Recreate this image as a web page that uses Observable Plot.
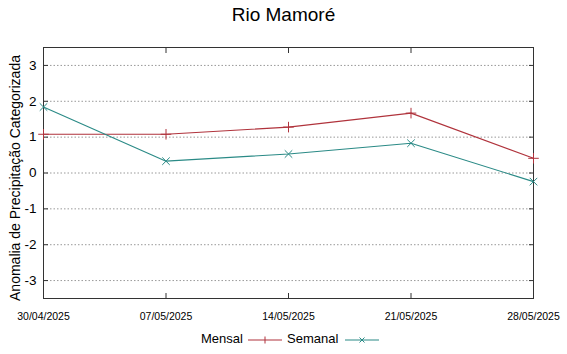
<!DOCTYPE html>
<html>
<head>
<meta charset="utf-8">
<script src="https://cdn.jsdelivr.net/npm/d3@7"></script>
<script src="https://cdn.jsdelivr.net/npm/@observablehq/plot@0.6"></script>
<style>
  html, body { margin: 0; padding: 0; background: #fff; }
  #wrap { position: relative; width: 567px; height: 354px; font-family: "Liberation Sans", Arial, sans-serif; }
  #title { position: absolute; left: 0; width: 567px; top: 4px; text-align: center; font-size: 19px; color: #000; }
  #legend { position: absolute; top: 331px; left: 0; width: 567px; font-size: 13px; color: #000; }
  #legend span, #legend svg { position: absolute; }
</style>
</head>
<body>
<div id="wrap">
  <div id="title">Rio Mamoré</div>
  <div id="chart"></div>
  <div id="legend"></div>
</div>
<script>
const dates = ["2025-04-30", "2025-05-07", "2025-05-14", "2025-05-21", "2025-05-28"];
const mensal = [1.08, 1.08, 1.28, 1.67, 0.41];
const semanal = [1.84, 0.33, 0.53, 0.83, -0.24];
const yTicks = [-3, -2, -1, 0, 1, 2, 3];
const seriesNames = ["Mensal", "Semanal"];
const seriesColors = ["#b0333c", "#2a8a86"];

const parse = d3.utcParse("%Y-%m-%d");
const xDates = dates.map(parse);
const fmt = d3.utcFormat("%d/%m/%Y");
const rows = [];
xDates.forEach((d, i) => {
  rows.push({date: d, value: mensal[i], series: "Mensal"});
  rows.push({date: d, value: semanal[i], series: "Semanal"});
});
const mRows = rows.filter(r => r.series === "Mensal");
const sRows = rows.filter(r => r.series === "Semanal");

const chart = Plot.plot({
  width: 567,
  height: 354,
  marginTop: 47,
  marginBottom: 56,
  marginLeft: 43,
  marginRight: 34,
  style: {fontFamily: "Liberation Sans, Arial, sans-serif", background: "transparent", overflow: "visible"},
  x: {type: "utc", domain: [xDates[0], xDates[xDates.length - 1]]},
  y: {domain: [-3.5, 3.5]},
  color: {domain: seriesNames, range: seriesColors},
  marks: [
    Plot.gridY(yTicks, {stroke: "#999", strokeOpacity: 1, strokeDasharray: "1.5,2", strokeWidth: 1}),
    Plot.axisY(yTicks, {anchor: "left", tickSize: 0, tickPadding: 7, fontSize: 13.5, label: null, tickFormat: d => String(d)}),
    Plot.axisY(yTicks, {anchor: "left", tickSize: -5, tickFormat: () => "", label: null, stroke: "#333"}),
    Plot.axisY(yTicks, {anchor: "right", tickSize: -5, tickFormat: () => "", label: null, stroke: "#333"}),
    Plot.axisX(xDates, {anchor: "bottom", tickSize: 0, tickPadding: 14, fontSize: 10.5, tickFormat: fmt, label: null}),
    Plot.axisX(xDates, {anchor: "bottom", tickSize: -5, tickFormat: () => "", label: null, stroke: "#333"}),
    Plot.axisX(xDates, {anchor: "top", tickSize: -5, tickFormat: () => "", label: null, stroke: "#333"}),
    Plot.frame({stroke: "#333", strokeWidth: 1}),
    Plot.text(["Anomalia de Precipitação Categorizada"], {frameAnchor: "left", textAnchor: "middle", rotate: -90, dx: -28, dy: 5, fontSize: 14, text: d => d}),
    Plot.line(mRows, {x: "date", y: "value", stroke: seriesColors[0], strokeWidth: 1.1}),
    Plot.line(sRows, {x: "date", y: "value", stroke: seriesColors[1], strokeWidth: 1.1}),
    Plot.dot(mRows, {x: "date", y: "value", symbol: "plus", r: 3.5, stroke: seriesColors[0], strokeWidth: 1}),
    Plot.dot(sRows, {x: "date", y: "value", symbol: "times", r: 3.5, stroke: seriesColors[1], strokeWidth: 1})
  ]
});
document.getElementById("chart").appendChild(chart);

// legend
const legend = document.getElementById("legend");
const legendPos = [{tx: 201, sx: 247}, {tx: 287, sx: 344}];
seriesNames.forEach((name, i) => {
  const t = document.createElement("span");
  t.textContent = name;
  t.style.left = legendPos[i].tx + "px";
  t.style.top = "0px";
  legend.appendChild(t);
  const ns = "http://www.w3.org/2000/svg";
  const s = document.createElementNS(ns, "svg");
  s.setAttribute("width", 36); s.setAttribute("height", 12);
  s.style.left = legendPos[i].sx + "px"; s.style.top = "3px";
  const l = document.createElementNS(ns, "line");
  l.setAttribute("x1", 1); l.setAttribute("x2", 35); l.setAttribute("y1", 6); l.setAttribute("y2", 6);
  l.setAttribute("stroke", seriesColors[i]); l.setAttribute("stroke-width", 1.1);
  s.appendChild(l);
  const p = document.createElementNS(ns, "path");
  p.setAttribute("d", i === 0 ? "M18,2.5V9.5" : "M15.5,3.5L20.5,8.5M15.5,8.5L20.5,3.5");
  p.setAttribute("stroke", seriesColors[i]); p.setAttribute("stroke-width", 1);
  s.appendChild(p);
  legend.appendChild(s);
});
</script>
</body>
</html>
